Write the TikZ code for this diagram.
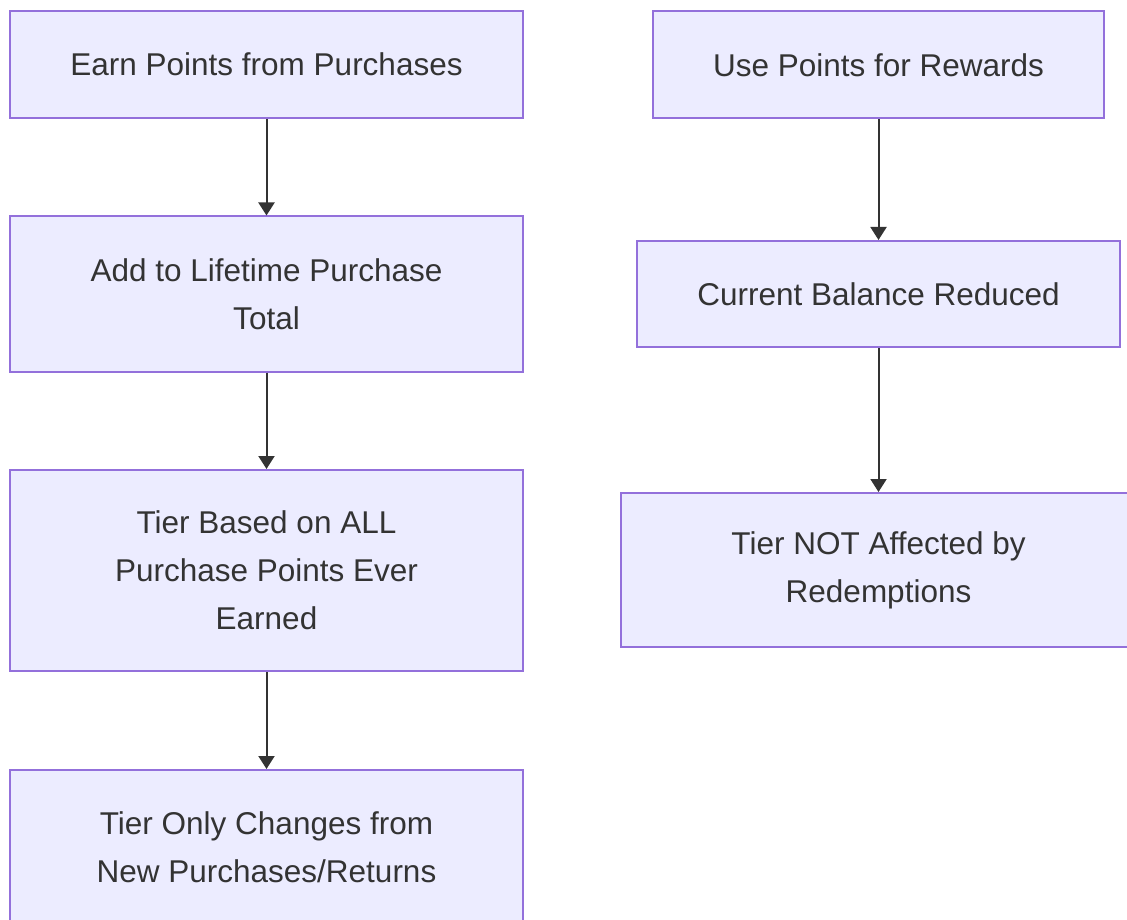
\documentclass[tikz,border=0pt]{standalone}
\usepackage{fontspec}
\setmainfont{Liberation Sans}
\usetikzlibrary{arrows.meta}
\definecolor{boxfill}{HTML}{ECECFF}
\definecolor{boxline}{HTML}{9370DB}
\definecolor{ink}{HTML}{333333}
\tikzset{
  flowbox/.style={draw=boxline, fill=boxfill, line width=1pt, rectangle,
    align=center, text=ink, inner sep=0pt,
    font=\fontsize{15.75pt}{24pt}\selectfont},
  flowarrow/.style={draw=ink, line width=1pt,
    -{Triangle[length=6.5pt, width=8pt]}}
}
\begin{document}
\begin{tikzpicture}[x=0.5pt, y=-0.5pt]
  \useasboundingbox (0,0) rectangle (1127,919);
  \clip (0,0) rectangle (1127,919);
  % purchase side
  \node[flowbox, minimum width=256.5pt, minimum height=53.5pt] (earn) at (266.5,64.5) {Earn Points from Purchases};
  \node[flowbox, minimum width=256.5pt, minimum height=77.5pt] (lifetime) at (266.5,294) {Add to Lifetime Purchase\\Total};
  \node[flowbox, minimum width=256.5pt, minimum height=100.5pt] (tier) at (266.5,570.5) {Tier Based on ALL\\Purchase Points Ever\\Earned};
  \node[flowbox, minimum width=256.5pt, minimum height=77.5pt] (changes) at (266.5,847.5) {Tier Only Changes from\\New Purchases/Returns};
  % redemption side
  \node[flowbox, minimum width=225.5pt, minimum height=53.5pt] (use) at (878.5,65) {Use Points for Rewards};
  \node[flowbox, minimum width=241.5pt, minimum height=53pt] (balance) at (878.5,294) {Current Balance Reduced};
  \node[flowbox, minimum width=257.5pt, minimum height=77pt] (notaff) at (878.5,570) {Tier NOT Affected by\\Redemptions};
  % connectors
  \draw[flowarrow] (earn) -- (lifetime);
  \draw[flowarrow] (lifetime) -- (tier);
  \draw[flowarrow] (tier) -- (changes);
  \draw[flowarrow] (use) -- (balance);
  \draw[flowarrow] (balance) -- (notaff);
\end{tikzpicture}
\end{document}
